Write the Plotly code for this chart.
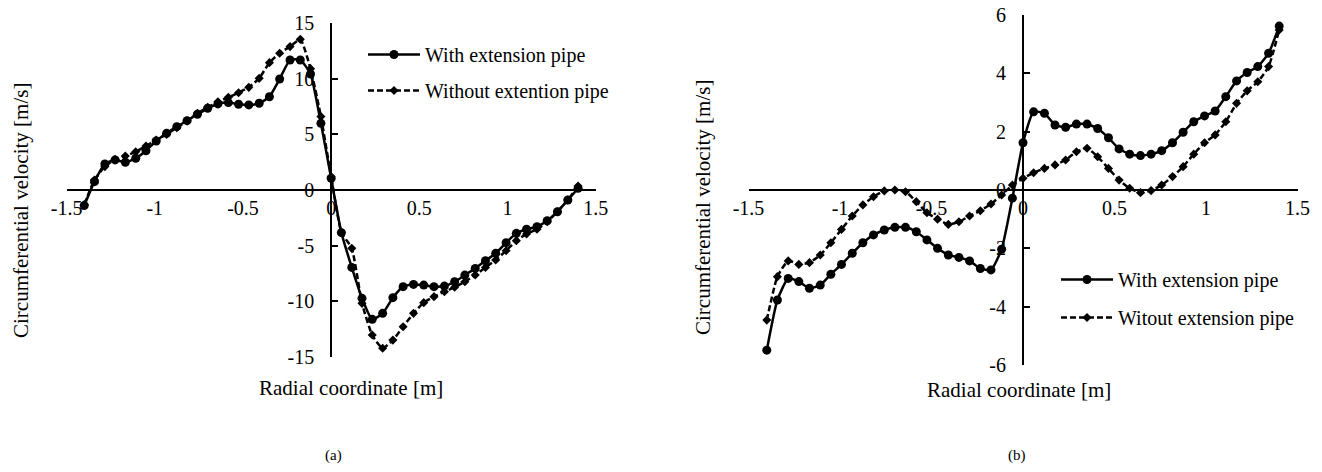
import plotly.graph_objects as go

# Radial sampling positions [m], shared by all profiles
radial_positions = [
    -1.400, -1.342, -1.283, -1.225, -1.167, -1.108, -1.050, -0.992, -0.933,
    -0.875, -0.817, -0.758, -0.700, -0.642, -0.583, -0.525, -0.467, -0.408,
    -0.350, -0.292, -0.233, -0.175, -0.117, -0.058, 0.000, 0.058, 0.117,
    0.175, 0.233, 0.292, 0.350, 0.408, 0.467, 0.525, 0.583, 0.642, 0.700,
    0.758, 0.817, 0.875, 0.933, 0.992, 1.050, 1.108, 1.167, 1.225, 1.283,
    1.342, 1.400,
]

# (a) circumferential velocity [m/s]
with_pipe_a = [
    -1.40, 0.75, 2.34, 2.70, 2.49, 2.85, 3.53, 4.40, 5.09, 5.69, 6.23, 6.80,
    7.34, 7.73, 7.85, 7.70, 7.64, 7.79, 8.38, 9.97, 11.68, 11.68, 10.42, 5.99,
    1.05, -3.83, -6.95, -9.73, -11.62, -11.08, -9.67, -8.68, -8.48, -8.54,
    -8.68, -8.63, -8.24, -7.64, -7.04, -6.35, -5.69, -4.73, -3.89, -3.53,
    -3.29, -2.76, -1.95, -0.90, 0.15,
]
without_pipe_a = [
    -1.30, 0.90, 2.10, 2.75, 3.05, 3.44, 3.95, 4.49, 5.00, 5.60, 6.20, 6.89,
    7.43, 7.93, 8.32, 8.74, 9.22, 10.03, 11.44, 12.28, 12.88, 13.53, 10.90,
    6.60, 1.20, -3.80, -5.24, -10.18, -13.03, -14.22, -13.48, -12.28, -11.08,
    -10.12, -9.58, -9.13, -8.74, -8.24, -7.64, -6.95, -6.29, -5.45, -4.55,
    -3.95, -3.53, -2.85, -1.95, -0.90, 0.36,
]

# (b) circumferential velocity [m/s]
with_pipe_b = [
    -5.49, -3.77, -3.03, -3.14, -3.37, -3.26, -2.89, -2.55, -2.17, -1.81,
    -1.54, -1.37, -1.28, -1.28, -1.43, -1.71, -2.00, -2.23, -2.31, -2.43,
    -2.69, -2.74, -2.03, -0.28, 1.62, 2.68, 2.63, 2.23, 2.15, 2.26, 2.26,
    2.11, 1.79, 1.41, 1.23, 1.18, 1.23, 1.35, 1.62, 1.98, 2.34, 2.54, 2.71,
    3.20, 3.74, 4.03, 4.23, 4.69, 5.62,
]
without_pipe_b = [
    -4.46, -2.97, -2.43, -2.55, -2.49, -2.23, -1.81, -1.35, -0.89, -0.51,
    -0.23, -0.03, 0.00, -0.06, -0.40, -0.78, -1.00, -1.18, -1.09, -0.89,
    -0.71, -0.48, -0.17, 0.17, 0.40, 0.59, 0.74, 0.86, 1.03, 1.31, 1.43,
    1.14, 0.74, 0.34, 0.06, -0.09, -0.02, 0.17, 0.46, 0.80, 1.23, 1.62,
    1.89, 2.34, 2.97, 3.40, 3.71, 4.23, 5.49,
]

# Tick values and their printed labels
x_tick_vals = [-1.5, -1.0, -0.5, 0.0, 0.5, 1.0, 1.5]
x_tick_text = ["-1.5", "-1", "-0.5", "0", "0.5", "1", "1.5"]
y_tick_vals_a = [-15, -10, -5, 0, 5, 10, 15]
y_tick_text_a = ["-15", "-10", "-5", "0", "5", "10", "15"]
y_tick_vals_b = [-6, -4, -2, 0, 2, 4, 6]
y_tick_text_b = ["-6", "-4", "-2", "0", "2", "4", "6"]

FONT = "'Liberation Serif', 'Times New Roman', 'DejaVu Serif', serif"
W, H = 1322, 472

solid_line = dict(color="black", width=2.5, shape="spline", smoothing=0.5)
dashed_line = dict(color="black", width=2.5, dash="6px,3px", shape="spline", smoothing=0.5)
circle = dict(symbol="circle", size=9, color="black")
diamond = dict(symbol="diamond", size=7, color="black")

fig = go.Figure()
fig.add_trace(go.Scatter(x=radial_positions, y=with_pipe_a, mode="lines+markers",
                         name="With extension pipe", line=solid_line, marker=circle,
                         xaxis="x", yaxis="y", legend="legend", legendgroup="a1"))
fig.add_trace(go.Scatter(x=radial_positions, y=without_pipe_a, mode="lines+markers",
                         name="Without extention pipe", line=dashed_line, marker=diamond,
                         xaxis="x", yaxis="y", legend="legend", legendgroup="a2"))
fig.add_trace(go.Scatter(x=radial_positions, y=with_pipe_b, mode="lines+markers",
                         name="With extension pipe", line=solid_line, marker=circle,
                         xaxis="x2", yaxis="y2", legend="legend2", legendgroup="b1"))
fig.add_trace(go.Scatter(x=radial_positions, y=without_pipe_b, mode="lines+markers",
                         name="Witout extension pipe", line=dashed_line, marker=diamond,
                         xaxis="x2", yaxis="y2", legend="legend2", legendgroup="b2"))

tick_font = dict(family=FONT, size=20, color="black")


def x_axis(domain, ypos):
    return dict(domain=domain, range=[-1.5, 1.5], anchor="free", position=ypos,
                showline=True, linecolor="black", linewidth=2, ticks="",
                tickvals=x_tick_vals, ticktext=x_tick_text, tickfont=tick_font,
                ticklabelstandoff=0, showgrid=False, zeroline=False)


def y_axis(domain, xpos, rng, vals, text):
    return dict(domain=domain, range=rng, anchor="free", position=xpos,
                showline=True, linecolor="black", linewidth=2, ticks="inside",
                ticklen=6, tickwidth=2, tickcolor="black", tickvals=vals,
                ticktext=text, tickfont=tick_font, ticklabelstandoff=12,
                showgrid=False, zeroline=False)


xa_dom = [66.6 / W, 595.7 / W]
ya_dom = [1 - 357 / H, 1 - 23 / H]
xb_dom = [748.5 / W, 1297.5 / W]
yb_dom = [1 - 365 / H, 1 - 15 / H]

legend_common = dict(font=dict(family=FONT, size=20, color="black"),
                     bgcolor="rgba(0,0,0,0)", borderwidth=0, itemwidth=52,
                     traceorder="grouped", xanchor="left", yanchor="top")

fig.update_layout(
    width=W, height=H,
    margin=dict(l=0, r=0, t=0, b=0, autoexpand=False),
    paper_bgcolor="white", plot_bgcolor="rgba(0,0,0,0)",
    font=dict(family=FONT, color="black"),
    xaxis=x_axis(xa_dom, sum(ya_dom) / 2),
    yaxis=y_axis(ya_dom, sum(xa_dom) / 2, [-15, 15], y_tick_vals_a, y_tick_text_a),
    xaxis2=x_axis(xb_dom, sum(yb_dom) / 2),
    yaxis2=y_axis(yb_dom, sum(xb_dom) / 2, [-6, 6], y_tick_vals_b, y_tick_text_b),
    legend=dict(x=363 / W, y=1 - 35 / H, tracegroupgap=7, **legend_common),
    legend2=dict(x=1056 / W, y=1 - 260 / H, tracegroupgap=9, **legend_common),
    showlegend=True,
)

title_font = dict(family=FONT, size=21, color="black")
label_font = dict(family=FONT, size=15, color="black")
annotations = [
    dict(text="Circumferential velocity [m/s]", x=21 / W, y=1 - 211 / H, textangle=-90, font=title_font),
    dict(text="Radial coordinate [m]", x=351 / W, y=1 - 388 / H, font=title_font),
    dict(text="Circumferential velocity [m/s]", x=703 / W, y=1 - 208 / H, textangle=-90, font=title_font),
    dict(text="Radial coordinate [m]", x=1019 / W, y=1 - 390 / H, font=title_font),
    dict(text="(a)", x=333 / W, y=1 - 455 / H, font=label_font),
    dict(text="(b)", x=1017 / W, y=1 - 455 / H, font=label_font),
]
for a in annotations:
    fig.add_annotation(xref="paper", yref="paper", showarrow=False,
                       xanchor="center", yanchor="middle", **a)

fig.write_html("out.html")
